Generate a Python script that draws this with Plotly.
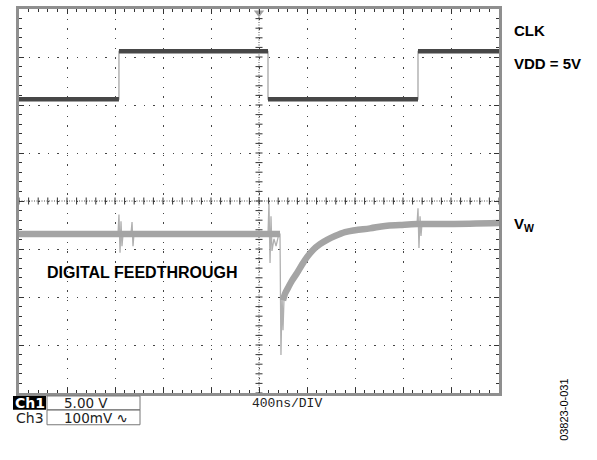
import plotly.graph_objects as go
import numpy as np

# ---------------- scope settings ----------------
TIME_PER_DIV_NS = 400
N_HDIV = 10
N_VDIV = 8
CH1_V_PER_DIV = 5.0
CH3_MV_PER_DIV = 100.0
CH1_OFFSET_DIV = 2.12
CH3_OFFSET_DIV = -0.69

# ---------------- CLK (Ch1): time in ns, level in V ----------------
clk_t = [0, 833, 833, 2075, 2075, 3325, 3325, 4000]
clk_v = [0, 0, 5, 5, 0, 0, 5, 5]

# ---------------- VW (Ch3): noise-band centre, time ns / mV ----------------
vw_band_t = [0, 2175, None,
             2200, 2217, 2242, 2275, 2317, 2358, 2400, 2450, 2508, 2567, 2633, 2717,
             2800, 2925, 3050, 3175, 3317, 3592, 4000]
vw_band_mv = [0, 0, None,
              -138, -124, -112, -97, -81, -64, -48, -33, -21, -12, -4, 4,
              8, 12, 17, 19, 21, 21, 23]

# ---------------- VW (Ch3): feedthrough glitches (thin), time ns / mV ----------------
vw_glitch_t = [825, 833, 842, 850, 858, 867, None,
               933, 942, 950, 958, None,
               2075, 2083, 2092, 2100, 2108, 2125, 2142, 2167, 2175, 2183, 2192, 2200, 2208, 2217, None,
               3317, 3325, 3333, 3342, 3350, 3358]
vw_glitch_mv = [0, 41, -39, 27, -25, 0, None,
                0, 25, -25, 0, None,
                0, 64, -60, 37, -35, -10, -25, 2, 0, -252, -128, -200, -138, -124, None,
                21, 54, -29, 37, -4, 21]

# ---------------- labels ----------------
ch1_label, ch1_scale = "Ch1", "5.00 V"
ch3_label, ch3_scale = "Ch3", "100mV \u223f"
time_label = "400ns/DIV"
fig_code = "03823-0-031"

# ---------------- geometry (pixels) ----------------
W, H = 597, 460
ML, MR, MT, MB = 19, 98, 6, 67
PW, PH = W - ML - MR, H - MT - MB


def px(x):
    return (x - ML) / PW


def py(y):
    return (H - MB - y) / PH


def ch1(v):
    return [None if a is None else CH1_OFFSET_DIV + a / CH1_V_PER_DIV for a in v]


def ch3(v):
    return [None if a is None else CH3_OFFSET_DIV + a / CH3_MV_PER_DIV for a in v]


# thick flat CLK segments (between equal levels)
clk_seg_t, clk_seg_v = [], []
for i in range(len(clk_t) - 1):
    if clk_v[i] == clk_v[i + 1]:
        clk_seg_t += [clk_t[i], clk_t[i + 1], None]
        clk_seg_v += [clk_v[i], clk_v[i + 1], None]

fig = go.Figure()

xmax = TIME_PER_DIV_NS * N_HDIV
ymax = N_VDIV / 2

# centre-axis graticule ticks
minor_x = np.arange(0, xmax + 1, TIME_PER_DIV_NS / 5)
minor_y = np.arange(-ymax, ymax + 0.001, 0.2)
fig.add_trace(go.Scatter(x=minor_x, y=[0] * len(minor_x), mode="markers",
                         marker=dict(symbol="line-ns", size=5, color="#333", line=dict(color="#333", width=1)),
                         hoverinfo="skip", showlegend=False))
fig.add_trace(go.Scatter(x=[xmax / 2] * len(minor_y), y=minor_y, mode="markers",
                         marker=dict(symbol="line-ew", size=5, color="#333", line=dict(color="#333", width=1)),
                         hoverinfo="skip", showlegend=False))

# CLK trace
fig.add_trace(go.Scatter(x=clk_t, y=ch1(clk_v), mode="lines",
                         line=dict(color="#a0a0a0", width=1.2), hoverinfo="skip", showlegend=False))
fig.add_trace(go.Scatter(x=clk_seg_t, y=ch1(clk_seg_v), mode="lines",
                         line=dict(color="#474747", width=4.5), hoverinfo="skip", showlegend=False))

# VW trace
fig.add_trace(go.Scatter(x=vw_glitch_t, y=ch3(vw_glitch_mv), mode="lines",
                         line=dict(color="#b0b0b0", width=1.3), hoverinfo="skip", showlegend=False))
fig.add_trace(go.Scatter(x=vw_band_t, y=ch3(vw_band_mv), mode="lines", line_shape="spline",
                         line=dict(color="#a4a4a4", width=6.5), hoverinfo="skip", showlegend=False))

# trigger marker at top centre
fig.add_trace(go.Scatter(x=[xmax / 2], y=[ymax - 0.08], mode="markers", cliponaxis=False,
                         marker=dict(symbol="triangle-down", size=9, color="#a0a0a0"),
                         hoverinfo="skip", showlegend=False))

axis_common = dict(showticklabels=False, zeroline=False, showline=True, linecolor="#8f8f8f",
                   linewidth=3, mirror="allticks", ticks="inside", ticklen=5, tickcolor="#333",
                   showgrid=True, gridcolor="#444", gridwidth=1.3)

fig.update_xaxes(range=[0, xmax], tick0=0, dtick=TIME_PER_DIV_NS, griddash="1.3px,8.4px",
                 minor=dict(tick0=0, dtick=TIME_PER_DIV_NS / 5, ticks="inside", ticklen=3,
                            tickcolor="#333", showgrid=False), **axis_common)
fig.update_yaxes(range=[-ymax, ymax], tick0=0, dtick=1, griddash="1.3px,8.3px",
                 minor=dict(tick0=0, dtick=0.2, ticks="inside", ticklen=3,
                            tickcolor="#333", showgrid=False), **axis_common)

# centre axes (dense dots)
fig.add_shape(type="line", x0=0, x1=xmax, y0=0, y1=0, line=dict(color="#555", width=1, dash="1px,1.5px"), layer="below")
fig.add_shape(type="line", x0=xmax / 2, x1=xmax / 2, y0=-ymax, y1=ymax, line=dict(color="#555", width=1, dash="1px,1.5px"), layer="below")

bold = dict(family="Liberation Sans, Arial", size=15, color="black", weight="bold")
ann = []
ann.append(dict(x=px(512), y=py(28), text="CLK", font=bold, xanchor="left", yanchor="middle"))
ann.append(dict(x=px(512), y=py(61), text="VDD = 5V", font=bold, xanchor="left", yanchor="middle"))
ann.append(dict(x=px(512), y=py(223), text="V<sub>W</sub>", font=bold, xanchor="left", yanchor="middle"))
ann.append(dict(x=px(142), y=py(272), text="DIGITAL FEEDTHROUGH",
                font=dict(family="Liberation Sans, Arial", size=16, color="black", weight="bold"),
                xanchor="center", yanchor="middle"))
ann.append(dict(x=px(564), y=py(410), text=fig_code, textangle=-90,
                font=dict(family="Liberation Sans, Arial", size=11, color="black"),
                xanchor="center", yanchor="middle"))
ann.append(dict(x=px(287), y=py(404), text=time_label,
                font=dict(family="Liberation Mono, Courier New", size=13, color="#222"),
                xanchor="center", yanchor="middle"))
chfont = dict(family="DejaVu Sans", size=13.5, color="#222")
ann.append(dict(x=px(29.5), y=py(403), text=ch1_label,
                font=dict(family="DejaVu Sans", size=14, color="white", weight="bold"),
                xanchor="center", yanchor="middle"))
ann.append(dict(x=px(62), y=py(403), text=ch1_scale, font=chfont, xanchor="left", yanchor="middle"))
ann.append(dict(x=px(29.5), y=py(418), text=ch3_label, font=dict(family="DejaVu Sans", size=14, color="#222"),
                xanchor="center", yanchor="middle"))
ann.append(dict(x=px(62), y=py(418), text=ch3_scale, font=chfont, xanchor="left", yanchor="middle"))
for a in ann:
    a.update(xref="paper", yref="paper", showarrow=False)

shapes = [
    dict(type="rect", xref="paper", yref="paper", x0=px(13), x1=px(46), y0=py(396), y1=py(410),
         fillcolor="black", line=dict(width=0), layer="below"),
    dict(type="rect", xref="paper", yref="paper", x0=px(47), x1=px(140), y0=py(396), y1=py(410),
         fillcolor="rgba(0,0,0,0)", line=dict(color="#777", width=1)),
    dict(type="rect", xref="paper", yref="paper", x0=px(47), x1=px(140), y0=py(410), y1=py(425),
         fillcolor="rgba(0,0,0,0)", line=dict(color="#777", width=1)),
]
for s in shapes:
    fig.add_shape(**s)

fig.update_layout(width=W, height=H, margin=dict(l=ML, r=MR, t=MT, b=MB),
                  paper_bgcolor="white", plot_bgcolor="white", annotations=ann, showlegend=False)

fig.write_html("out.html", config={"displayModeBar": False},
               post_script="document.body.style.margin='0';document.body.style.overflow='hidden';")
